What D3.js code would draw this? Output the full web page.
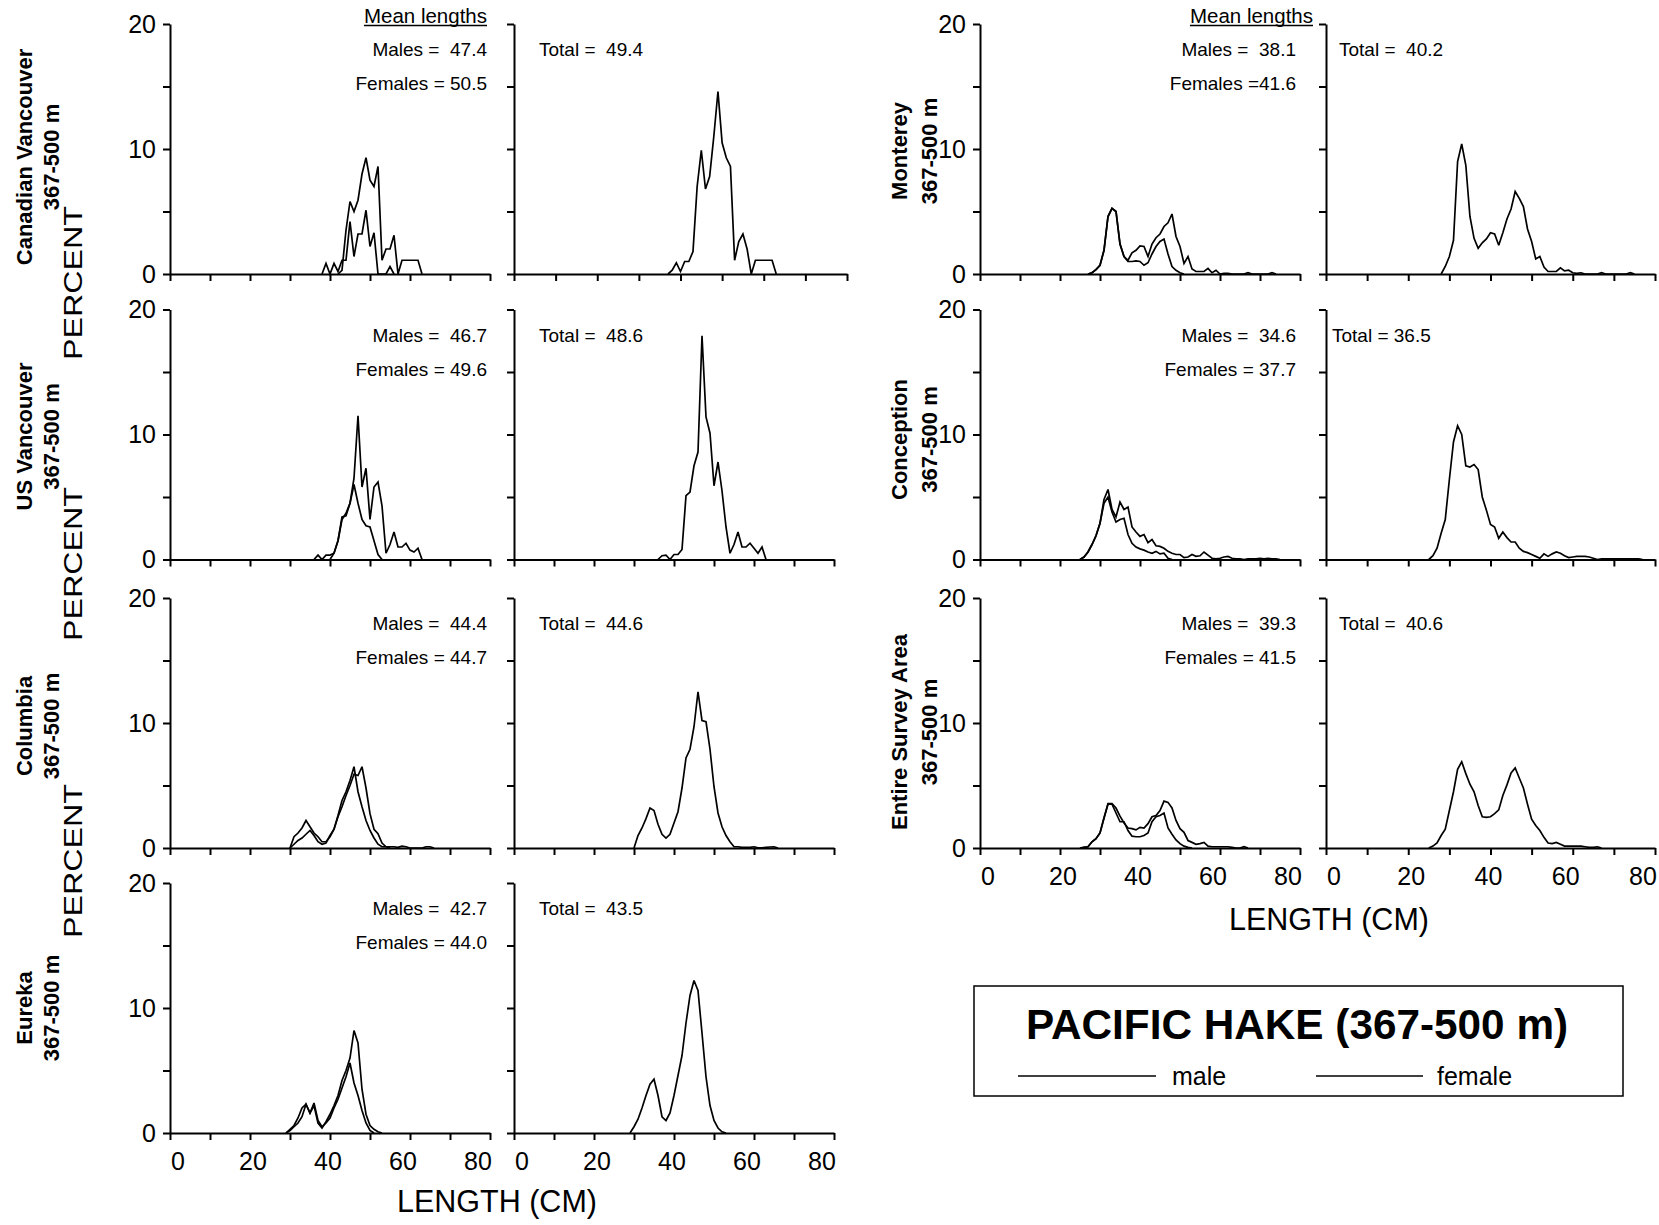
<!DOCTYPE html>
<html>
<head>
<meta charset="utf-8">
<script src="https://cdn.jsdelivr.net/npm/d3@7"></script>
<style>
  body { margin: 0; background: #fff; }
  svg { display: block; font-family: "Liberation Sans", Arial, Helvetica, sans-serif; }
  text { white-space: pre; fill: #000; }
</style>
</head>
<body>
<svg id="chart" width="1659" height="1225"></svg>
<script>
// ---------------------------------------------------------------
// Length-frequency data (percent by 1-cm length class).
// Each series starts at the length given by its *From constant.
// ---------------------------------------------------------------
const lengthTicks = [0, 10, 20, 30, 40, 50, 60, 70, 80];
const lengthLabels = [0, 20, 40, 60, 80];
const percentTicks = [0, 5, 10, 15, 20];
const percentLabels = [0, 10, 20];

const regionNames = ["Canadian Vancouver", "US Vancouver", "Columbia", "Eureka",
                     "Monterey", "Conception", "Entire Survey Area"];
const depthLabel = "367-500 m";
const maleMeans   = ["47.4", "46.7", "44.4", "42.7", "38.1", "34.6", "39.3"];
const femaleMeans = ["50.5", "49.6", "44.7", "44.0", "41.6", "37.7", "41.5"];
const totalMeans  = ["49.4", "48.6", "44.6", "43.5", "40.2", "36.5", "40.6"];

// Canadian Vancouver
const canVanMaleFrom = 38;
const canVanMale = [0, 0.85, 0, 0.85, 0.2, 1.1, 1.1, 4.2, 1.4, 3.2, 3.2, 5.1, 2.2, 3.3, 0, 0, 0, 0.6, 0];
const canVanFemaleFrom = 42;
const canVanFemale = [0, 0.3, 3.5, 5.8, 5.0, 5.9, 8.0, 9.3, 7.5, 7.0, 8.6, 1.1, 2.0, 2.0, 3.1, 0, 1.1, 1.1, 1.1, 1.1, 1.1, 0];
const canVanTotalFrom = 37;
const canVanTotal = [0, 0.3, 0.9, 0.2, 1.0, 1.0, 1.8, 7.0, 9.9, 6.8, 7.8, 11.0, 14.6, 10.5, 9.3, 8.6, 1.1, 2.6, 3.2, 2.0, 0, 1.1, 1.1, 1.1, 1.1, 1.1, 0];

// US Vancouver
const usVanMaleFrom = 36;
const usVanMale = [0, 0.35, 0, 0.35, 0.35, 0.5, 1.5, 3.2, 3.7, 4.5, 6.0, 4.5, 3.2, 2.7, 2.6, 1.5, 0.4, 0];
const usVanFemaleFrom = 40;
const usVanFemale = [0, 0.5, 1.5, 3.4, 3.5, 4.5, 6.5, 11.5, 5.8, 7.3, 3.2, 5.8, 6.2, 4.3, 0.5, 1.2, 2.2, 1.0, 1.0, 1.3, 0.75, 0.6, 0.9, 0];
const usVanTotalFrom = 36;
const usVanTotal = [0, 0.3, 0.35, 0, 0.4, 0.4, 0.8, 5.1, 5.4, 7.5, 8.6, 17.9, 11.4, 10.1, 5.9, 7.8, 5.5, 2.6, 0.5, 1.2, 2.2, 1.0, 1.0, 1.3, 0.9, 0.5, 1.0, 0];

// Columbia
const columbiaMaleFrom = 30;
const columbiaMale = [0, 0.9, 1.2, 1.6, 2.2, 1.7, 1.2, 0.9, 0.5, 0.5, 0.9, 1.5, 2.6, 3.8, 4.5, 5.4, 6.5, 4.5, 3.3, 2.2, 1.4, 0.8, 0.3, 0.1, 0.1, 0];
const columbiaFemaleFrom = 30;
const columbiaFemale = [0, 0.3, 0.6, 0.8, 1.1, 1.4, 1.0, 0.5, 0.3, 0.4, 1.0, 1.5, 2.5, 3.3, 4.2, 5.0, 5.9, 5.8, 6.5, 4.8, 2.75, 1.5, 1.15, 0.4, 0.1, 0.1, 0.1, 0.05, 0.15, 0.1, 0, 0, 0, 0, 0.1, 0.1, 0];
const columbiaTotalFrom = 30;
const columbiaTotal = [0, 1.0, 1.6, 2.35, 3.2, 3.0, 1.9, 1.1, 0.8, 1.1, 2.0, 2.9, 4.8, 7.2, 7.9, 9.7, 12.5, 10.2, 10.1, 7.9, 4.9, 2.8, 1.7, 1.0, 0.5, 0.1, 0.1, 0.05, 0.05, 0.05, 0.1, 0.02, 0.02, 0.05, 0.08, 0.1, 0];

// Eureka
const eurekaMaleFrom = 29;
const eurekaMale = [0, 0.3, 0.6, 1.2, 2.0, 2.3, 1.6, 2.4, 1.0, 0.5, 0.8, 1.2, 2.0, 2.7, 3.6, 4.5, 5.6, 4.0, 3.0, 1.8, 0.8, 0.2, 0];
const eurekaFemaleFrom = 29;
const eurekaFemale = [0, 0.2, 0.5, 0.8, 1.3, 2.3, 1.6, 2.2, 0.8, 0.4, 0.9, 1.5, 2.2, 3.0, 4.2, 5.0, 6.0, 8.2, 7.2, 3.5, 1.5, 0.6, 0.3, 0.1, 0];
const eurekaTotalFrom = 29;
const eurekaTotal = [0, 0.5, 1.1, 2.0, 3.0, 3.9, 4.3, 3.0, 1.3, 1.0, 1.6, 3.0, 4.6, 6.2, 8.8, 11.0, 12.2, 11.4, 8.0, 4.5, 2.2, 1.0, 0.4, 0.1, 0];

// Monterey
const montereyMaleFrom = 27;
const montereyMale = [0, 0.1, 0.35, 0.7, 1.9, 4.6, 5.25, 5.0, 2.4, 1.4, 1.0, 1.0, 1.05, 1.0, 0.7, 0.9, 1.6, 2.2, 2.6, 2.8, 1.6, 0.6, 0.3, 0.1, 0];
const montereyFemaleFrom = 27;
const montereyFemale = [0, 0.1, 0.35, 0.7, 1.9, 4.6, 5.25, 5.0, 2.4, 1.4, 1.1, 1.7, 1.9, 2.25, 2.2, 1.4, 2.4, 2.9, 3.2, 3.8, 4.1, 4.8, 3.0, 2.2, 0.85, 1.4, 0.4, 0.2, 0.2, 0.2, 0.45, 0.1, 0.3, 0, 0.05, 0.05, 0, 0, 0, 0, 0.1, 0, 0, 0, 0, 0, 0.1, 0];
const montereyTotalFrom = 28;
const montereyTotal = [0, 0.6, 1.4, 2.7, 9.0, 10.4, 8.7, 4.6, 2.85, 2.05, 2.5, 2.8, 3.3, 3.2, 2.3, 3.3, 4.4, 5.2, 6.6, 6.05, 5.4, 3.6, 2.6, 1.2, 1.4, 0.55, 0.2, 0.2, 0.2, 0.5, 0.25, 0.3, 0.1, 0.05, 0.1, 0, 0, 0, 0, 0.1, 0, 0, 0, 0, 0, 0, 0.1, 0];

// Conception
const conceptionMaleFrom = 25;
const conceptionMale = [0, 0.2, 0.6, 1.2, 1.9, 2.9, 4.5, 5.0, 3.8, 3.0, 3.2, 3.3, 2.0, 1.3, 1.0, 0.85, 0.75, 0.6, 0.5, 0.65, 0.45, 0.5, 0.1, 0];
const conceptionFemaleFrom = 25;
const conceptionFemale = [0, 0.2, 0.6, 1.2, 1.9, 2.9, 4.8, 5.6, 4.0, 3.4, 4.6, 4.0, 4.2, 2.6, 2.2, 1.85, 2.0, 1.35, 1.6, 1.1, 1.05, 0.9, 0.65, 0.5, 0.4, 0.4, 0.15, 0.2, 0.4, 0.25, 0.3, 0.6, 0.35, 0.1, 0.05, 0.1, 0.2, 0.25, 0.1, 0.05, 0.05, 0, 0.05, 0.05, 0.05, 0.1, 0.05, 0.1, 0.05, 0.05, 0];
const conceptionTotalFrom = 25;
const conceptionTotal = [0, 0.3, 0.9, 2.1, 3.2, 6.4, 9.4, 10.7, 10.0, 7.5, 7.4, 7.6, 7.2, 5.0, 3.95, 2.8, 2.6, 1.7, 2.2, 1.75, 1.4, 1.4, 0.9, 0.65, 0.55, 0.4, 0.25, 0.1, 0.45, 0.25, 0.45, 0.6, 0.5, 0.3, 0.15, 0.2, 0.25, 0.25, 0.25, 0.2, 0.1, 0, 0.05, 0.05, 0.05, 0.05, 0.05, 0.05, 0.05, 0.05, 0.05, 0.05, 0];

// Entire survey area
const entireMaleFrom = 25;
const entireMale = [0, 0.05, 0.1, 0.5, 0.75, 1.2, 2.4, 3.5, 3.5, 2.8, 2.1, 2.1, 1.4, 0.95, 0.9, 0.9, 1.0, 1.2, 2.1, 2.5, 2.6, 2.8, 1.6, 1.1, 0.65, 0.35, 0.15, 0.05, 0];
const entireFemaleFrom = 25;
const entireFemale = [0, 0.05, 0.1, 0.5, 0.75, 1.2, 2.4, 3.55, 3.55, 3.2, 2.55, 2.0, 1.6, 1.55, 1.45, 1.65, 1.6, 1.95, 2.5, 2.6, 3.0, 3.75, 3.65, 3.2, 2.2, 1.55, 1.25, 0.6, 0.45, 0.3, 0.35, 0.45, 0.15, 0.1, 0.1, 0.1, 0.1, 0.1, 0.05, 0, 0, 0.1, 0];
const entireTotalFrom = 25;
const entireTotal = [0, 0.15, 0.4, 1.0, 1.5, 3.0, 4.5, 6.3, 6.9, 5.95, 5.1, 4.5, 3.4, 2.5, 2.45, 2.5, 2.75, 3.05, 4.2, 5.05, 6.0, 6.4, 5.6, 4.8, 3.5, 2.3, 1.8, 1.4, 0.85, 0.4, 0.35, 0.45, 0.3, 0.15, 0.15, 0.15, 0.15, 0.15, 0.1, 0.05, 0.05, 0.1, 0];

// ---------------------------------------------------------------
// Layout
// ---------------------------------------------------------------
const rowBase = [274, 559.5, 848, 1133];   // y of the 0 % line in each row
const plotHeight = 250;
const colLeft = { a: [170, 490], b: [514, 834], name1: 32, name2: 58.5, meanRight: 487 };
const colRight = { a: [980, 1300], b: [1326, 1655], name1: 907, name2: 937, meanRight: 1296 };

const regions = [
  { row: 0, col: colLeft,  bRange: [514, 847], m: [canVanMaleFrom, canVanMale], f: [canVanFemaleFrom, canVanFemale], t: [canVanTotalFrom, canVanTotal] },
  { row: 1, col: colLeft,  m: [usVanMaleFrom, usVanMale], f: [usVanFemaleFrom, usVanFemale], t: [usVanTotalFrom, usVanTotal] },
  { row: 2, col: colLeft,  m: [columbiaMaleFrom, columbiaMale], f: [columbiaFemaleFrom, columbiaFemale], t: [columbiaTotalFrom, columbiaTotal] },
  { row: 3, col: colLeft,  m: [eurekaMaleFrom, eurekaMale], f: [eurekaFemaleFrom, eurekaFemale], t: [eurekaTotalFrom, eurekaTotal], xLabels: true },
  { row: 0, col: colRight, m: [montereyMaleFrom, montereyMale], f: [montereyFemaleFrom, montereyFemale], t: [montereyTotalFrom, montereyTotal] },
  { row: 1, col: colRight, m: [conceptionMaleFrom, conceptionMale], f: [conceptionFemaleFrom, conceptionFemale], t: [conceptionTotalFrom, conceptionTotal] },
  { row: 2, col: colRight, m: [entireMaleFrom, entireMale], f: [entireFemaleFrom, entireFemale], t: [entireTotalFrom, entireTotal], xLabels: true }
];

const svg = d3.select("#chart");

function toPoints([from, values]) {
  return values.map((v, i) => ({ len: from + i, pct: v }));
}

function drawPanel(xRange, base, opts) {
  const x = d3.scaleLinear().domain([0, 80]).range(xRange);
  const y = d3.scaleLinear().domain([0, 20]).range([base, base - plotHeight]);
  const g = svg.append("g");

  const xAxis = g.append("g")
    .attr("transform", `translate(0,${base})`)
    .call(d3.axisBottom(x).tickValues(lengthTicks).tickSize(7).tickSizeOuter(0).tickFormat(""));
  const yAxis = g.append("g")
    .attr("transform", `translate(${xRange[0]},0)`)
    .call(d3.axisLeft(y).tickValues(percentTicks).tickSize(7).tickSizeOuter(0).tickPadding(7)
      .tickFormat(d => opts.yLabels && percentLabels.includes(d) ? d : ""));
  [xAxis, yAxis].forEach(a => {
    a.select(".domain").attr("stroke", "#000").attr("stroke-width", 2);
    a.selectAll(".tick line").attr("stroke", "#000").attr("stroke-width", 2);
  });
  yAxis.selectAll(".tick text").attr("font-size", 25).attr("font-family", null).attr("fill", "#000");

  if (opts.xLabels) {
    // tick numbers are set slightly inside the axis ends
    const xl = d3.scaleLinear().domain([0, 80]).range([xRange[0] + 8, xRange[1] - 12]);
    g.append("g").selectAll("text").data(lengthLabels).join("text")
      .attr("x", d => xl(d)).attr("y", base + 37)
      .attr("text-anchor", "middle").attr("font-size", 25)
      .text(d => d);
  }

  const line = d3.line().x(d => x(d.len)).y(d => y(d.pct));
  g.append("g").selectAll("path").data(opts.series).join("path")
    .attr("d", d => line(toPoints(d)))
    .attr("fill", "none").attr("stroke", "#000").attr("stroke-width", 1.7)
    .attr("stroke-miterlimit", 3);
  return g;
}

regions.forEach((r, i) => {
  const base = rowBase[r.row];
  const col = r.col;
  const bRange = r.bRange || col.b;

  const ga = drawPanel(col.a, base, { yLabels: true, xLabels: r.xLabels, series: [r.m, r.f] });
  const gb = drawPanel(bRange, base, { yLabels: false, xLabels: r.xLabels, series: [r.t] });

  const top = base - plotHeight;
  ga.append("text").attr("x", col.meanRight).attr("y", top + 32)
    .attr("text-anchor", "end").attr("font-size", 19)
    .text("Males =  " + maleMeans[i]);
  ga.append("text").attr("x", col.meanRight).attr("y", top + 66)
    .attr("text-anchor", "end").attr("font-size", 19)
    .text((i === 4 ? "Females =" : "Females = ") + femaleMeans[i]);
  gb.append("text").attr("x", col === colLeft ? 539 : (i === 5 ? 1332 : 1339)).attr("y", top + 32)
    .attr("font-size", 19)
    .text((i === 5 ? "Total = " : "Total =  ") + totalMeans[i]);

  // region name, rotated
  const cy = top + [133, 127, 128, 125, 127, 130, 134][i];
  const lab = svg.append("g").attr("font-weight", "bold").attr("font-size", 22).attr("text-anchor", "middle");
  lab.append("text").attr("transform", `translate(${col.name1},${cy}) rotate(-90)`).text(regionNames[i]);
  lab.append("text").attr("transform", `translate(${col.name2},${cy}) rotate(-90)`).text(depthLabel);
});

// "Mean lengths" headings
[[487, 23], [1313, 23]].forEach(([xr, yb]) => {
  const t = svg.append("text").attr("x", xr).attr("y", yb).attr("text-anchor", "end")
    .attr("font-size", 20.5).text("Mean lengths");
  const bb = t.node().getBBox();
  svg.append("line").attr("x1", bb.x).attr("x2", bb.x + bb.width)
    .attr("y1", yb + 2.5).attr("y2", yb + 2.5).attr("stroke", "#000").attr("stroke-width", 1.3);
});

// PERCENT axis titles
[283, 564, 861].forEach(cy => {
  svg.append("text").attr("transform", `translate(82,${cy}) rotate(-90)`)
    .attr("text-anchor", "middle").attr("font-size", 25.5)
    .attr("textLength", 154).attr("lengthAdjust", "spacingAndGlyphs")
    .text("PERCENT");
});

// LENGTH axis titles
svg.append("text").attr("x", 497).attr("y", 1212).attr("text-anchor", "middle")
  .attr("font-size", 30.5).text("LENGTH (CM)");
svg.append("text").attr("x", 1329).attr("y", 930).attr("text-anchor", "middle")
  .attr("font-size", 30.5).text("LENGTH (CM)");

// Legend box
const legend = svg.append("g");
legend.append("rect").attr("x", 974).attr("y", 986).attr("width", 649).attr("height", 110)
  .attr("fill", "none").attr("stroke", "#000").attr("stroke-width", 1.5);
legend.append("text").attr("x", 1297).attr("y", 1039).attr("text-anchor", "middle")
  .attr("font-size", 42.3).attr("font-weight", "bold").text("PACIFIC HAKE (367-500 m)");
const legendItems = [
  { label: "male", x1: 1018, x2: 1156, tx: 1172 },
  { label: "female", x1: 1316, x2: 1423, tx: 1437 }
];
legendItems.forEach(d => {
  legend.append("line").attr("x1", d.x1).attr("x2", d.x2).attr("y1", 1076).attr("y2", 1076)
    .attr("stroke", "#000").attr("stroke-width", 1.7);
  legend.append("text").attr("x", d.tx).attr("y", 1085).attr("font-size", 25).text(d.label);
});
</script>
</body>
</html>
